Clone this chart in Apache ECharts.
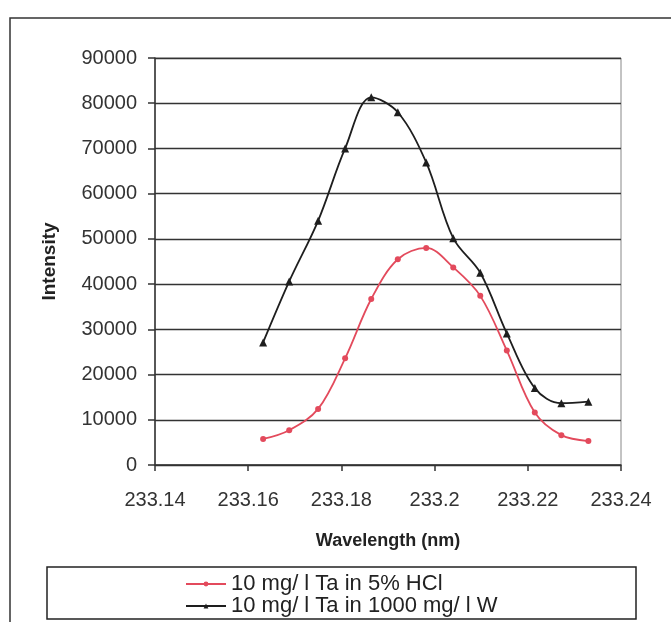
<!DOCTYPE html>
<html><head><meta charset="utf-8">
<script src="https://cdn.jsdelivr.net/npm/echarts@6/dist/echarts.min.js"></script>
<style>html,body{margin:0;padding:0;background:#fff}#c{width:671px;height:622px}</style>
</head><body><div id="c"></div>
<script>
const wavelengths = [233.1632, 233.1688, 233.1750, 233.1808, 233.1864, 233.1921, 233.1982, 233.2040, 233.2098, 233.2155, 233.2215, 233.2272, 233.2330];
const hclValues = [5750, 7700, 12400, 23600, 36700, 45500, 48000, 43700, 37400, 25300, 11600, 6600, 5300];
const wValues = [27100, 40600, 54000, 70000, 81300, 78000, 66900, 50150, 42500, 29100, 17000, 13650, 14000];
const seriesNames = ['10 mg/ l Ta in 5% HCl', '10 mg/ l Ta in 1000 mg/ l W'];
const xTicks = [233.14, 233.16, 233.18, 233.2, 233.22, 233.24];

const chart = echarts.init(document.getElementById('c'));
const font = 'Liberation Sans, Arial, sans-serif';
chart.setOption({
  backgroundColor: '#fff',
  animation: false,
  graphic: [
    {type:'polyline', shape:{points:[[10,622],[10,18],[671,18]]}, style:{stroke:'#333', lineWidth:1.5, fill:null}},
    {type:'rect', shape:{x:47, y:567, width:589, height:52}, style:{stroke:'#222', lineWidth:1.5, fill:'#fff'}, z:-1}
  ],
  grid: {left:155, right:50, top:58, bottom:157, show:true, borderColor:'#888', borderWidth:1},
  xAxis: {
    type:'value', min:233.14, max:233.24, interval:0.02,
    name:'Wavelength (nm)', nameLocation:'middle', nameGap:67,
    nameTextStyle:{fontFamily:font, fontWeight:'bold', fontSize:18, color:'#222'},
    axisLine:{show:true, lineStyle:{color:'#333', width:1.5}},
    axisTick:{show:true, length:6, lineStyle:{color:'#333', width:1.5}},
    axisLabel:{fontFamily:font, fontSize:20, color:'#333', margin:25, formatter:v => String(+v.toFixed(2))},
    splitLine:{show:false}
  },
  yAxis: {
    type:'value', min:0, max:90000, interval:10000,
    name:'Intensity', nameLocation:'middle', nameGap:96,
    nameTextStyle:{fontFamily:font, fontWeight:'bold', fontSize:19, color:'#222'},
    axisLine:{show:true, lineStyle:{color:'#333', width:1.5}},
    axisTick:{show:true, length:7, lineStyle:{color:'#333', width:1.5}},
    axisLabel:{fontFamily:font, fontSize:20, color:'#333', margin:18, formatter:v => String(v)},
    splitLine:{show:true, lineStyle:{color:'#333', width:1.3}}
  },
  legend: {
    orient:'vertical', left:180, top:568, itemGap:0, itemWidth:40, itemHeight:6,
    textStyle:{fontFamily:font, fontSize:22, color:'#222', lineHeight:22},
    data: seriesNames
  },
  series: [
    {name:seriesNames[0], type:'line', smooth:0.35, data:wavelengths.map((x,i)=>[x,hclValues[i]]),
     symbol:'circle', symbolSize:6, itemStyle:{color:'#e34a5c'}, lineStyle:{color:'#e34a5c', width:1.8}},
    {name:seriesNames[1], type:'line', smooth:0.35, data:wavelengths.map((x,i)=>[x,wValues[i]]),
     symbol:'triangle', symbolSize:8, itemStyle:{color:'#1e1e1e'}, lineStyle:{color:'#1e1e1e', width:1.8}}
  ]
});
</script></body></html>
